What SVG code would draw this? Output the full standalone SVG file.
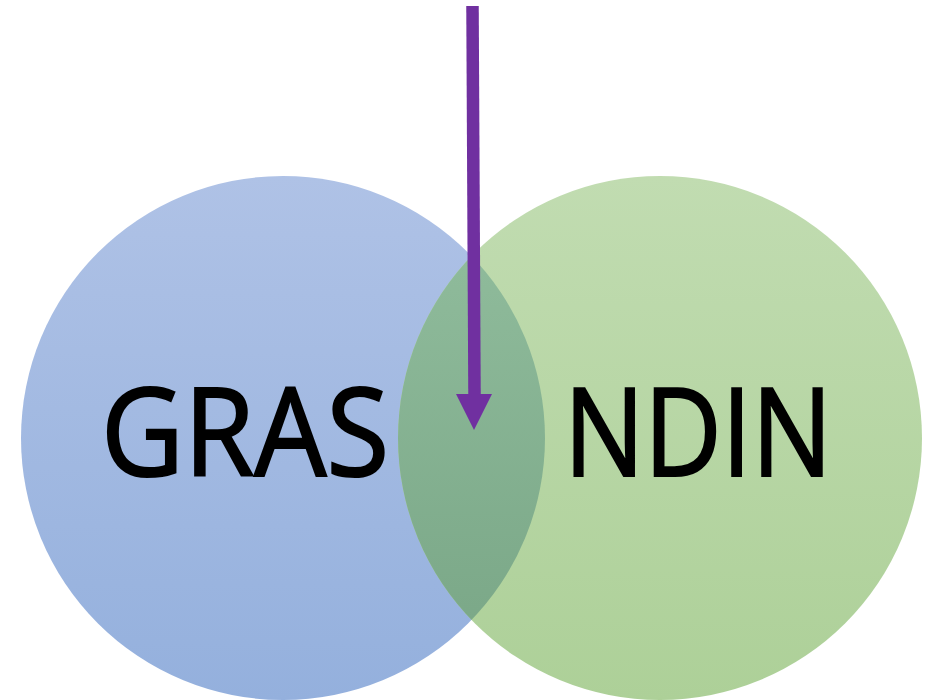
<svg xmlns="http://www.w3.org/2000/svg" width="935" height="700" viewBox="0 0 935 700">
  <defs>
    <linearGradient id="gBlue" x1="0" y1="0" x2="0" y2="1">
      <stop offset="0" stop-color="#AFC2E6"/>
      <stop offset="1" stop-color="#94B0DD"/>
    </linearGradient>
    <linearGradient id="gGreen" x1="0" y1="0" x2="0" y2="1">
      <stop offset="0" stop-color="#C1DCB1"/>
      <stop offset="1" stop-color="#ADD098"/>
    </linearGradient>
    <linearGradient id="gLens" gradientUnits="userSpaceOnUse" x1="0" y1="250" x2="0" y2="630">
      <stop offset="0" stop-color="#8FBB9B"/>
      <stop offset="1" stop-color="#7BA888"/>
    </linearGradient>
    <clipPath id="clipBlue">
      <circle cx="283" cy="438" r="262"/>
    </clipPath>
    <style>
      .label { font-family: "Open Sans", "Liberation Sans", sans-serif; font-size: 123px; fill: #000000; stroke: #000000; stroke-width: 2.2px; }
    </style>
  </defs>

  <rect width="935" height="700" fill="#FFFFFF"/>

  <g id="node-gras">
    <circle cx="283" cy="438" r="262" fill="url(#gBlue)"/>
  </g>

  <g id="node-ndin">
    <circle cx="660" cy="438" r="262" fill="url(#gGreen)"/>
  </g>

  <!-- lens where the two circles overlap -->
  <g id="overlap">
    <circle cx="660" cy="438" r="262" fill="url(#gLens)" clip-path="url(#clipBlue)"/>
  </g>

  <g id="labels">
    <text class="label" x="101" y="476" textLength="288" lengthAdjust="spacingAndGlyphs">GRAS</text>
    <text class="label" x="564" y="476" textLength="268" lengthAdjust="spacingAndGlyphs">NDIN</text>
  </g>

  <g id="connectors">
    <path d="M472.5,6 L474.5,394" stroke="#7030A0" stroke-width="12.5" fill="none"/>
    <polygon points="456,394 492,394 474,430" fill="#7030A0"/>
  </g>
</svg>
